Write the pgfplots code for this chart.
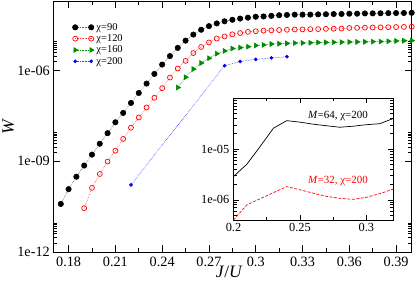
\documentclass[border=0pt]{standalone}
\usepackage{pgfplots}
\pgfplotsset{compat=1.18}
\usepackage{fontspec}
\setmainfont{Liberation Serif}
\definecolor{dgreen}{RGB}{0,140,0}
\definecolor{dotgray}{RGB}{90,90,90}
\begin{document}
\begin{tikzpicture}
\begin{axis}[
 at={(0,0)}, anchor=south west,
 scale only axis, width=358.7bp, height=251bp,
 xmin=0.17, xmax=0.4, ymode=log, ymin=1e-12, ymax=2e-4,
 xtick={0.18,0.21,0.24,0.27,0.3,0.33,0.36,0.39},
 xticklabels={0.18,0.21,0.24,0.27,0.3,0.33,0.36,0.39},
 minor xtick={0.195,0.225,0.255,0.285,0.315,0.345,0.375},
 ytick={1e-12,1e-9,1e-6}, yticklabels={1e-12,1e-09,1e-06},
 minor ytick={2e-12,3e-12,4e-12,5e-12,6e-12,7e-12,8e-12,9e-12,2e-9,3e-9,4e-9,5e-9,6e-9,7e-9,8e-9,9e-9,2e-6,3e-6,4e-6,5e-6,6e-6,7e-6,8e-6,9e-6},
 tick align=inside, major tick length=7bp, minor tick length=4bp,
 axis line style={line width=0.8bp},
 every tick/.style={line width=0.7bp, black},
 /pgf/number format/assume math mode=true,
 ticklabel style={font=\fontsize{14.3}{14.3}\selectfont, inner sep=0pt},
 yticklabel style={xshift=-3bp},
 xticklabel style={yshift=-4.7bp},
 xlabel={\textit{J}/\textit{U}}, ylabel={\textit{W}},
 every axis x label/.style={at={(axis description cs:0.4915,-0.078)}, anchor=center, font=\fontsize{17.5}{17.5}\selectfont, inner sep=0pt},
 every axis y label/.style={at={(axis description cs:-0.1246,0.5)}, anchor=center, rotate=90, font=\fontsize{17.5}{17.5}\selectfont, inner sep=0pt},
 legend image code/.code={\draw[mark repeat=2,mark phase=1] plot coordinates {(0bp,0bp) (8bp,0bp) (16bp,0bp)};},
 legend cell align=left,
 legend style={at={(axis description cs:0.0544,0.912)}, anchor=north west, draw=none, fill=none, inner sep=0pt, outer sep=0pt, row sep=2.9bp, column sep=2.5bp, font=\fontsize{10.5}{12}\selectfont, nodes={inner sep=0pt}},
]
\addplot[dotgray, densely dotted, line width=0.6bp, mark=*, mark size=2.7pt, mark options={solid, black}] coordinates {
(0.175,3.89e-11) (0.18,1.20e-10) (0.185,3.09e-10) (0.19,7.24e-10) (0.195,1.66e-9) (0.2,3.80e-9) (0.205,8.51e-9) (0.21,1.95e-8) (0.215,3.98e-8) (0.22,8.51e-8) (0.225,1.82e-7) (0.23,3.72e-7) (0.235,7.76e-7) (0.24,1.58e-6) (0.245,3.02e-6) (0.25,5.62e-6) (0.255,9.77e-6) (0.26,1.55e-5) (0.265,2.24e-5) (0.27,2.95e-5) (0.275,3.63e-5) (0.28,4.27e-5) (0.285,4.79e-5) (0.29,5.25e-5) (0.295,5.62e-5) (0.3,6.03e-5) (0.305,6.17e-5) (0.31,6.46e-5) (0.315,6.76e-5) (0.32,6.92e-5) (0.325,7.08e-5) (0.33,7.08e-5) (0.335,7.10e-5) (0.34,7.24e-5) (0.345,7.30e-5) (0.35,7.41e-5) (0.355,7.45e-5) (0.36,7.59e-5) (0.365,7.62e-5) (0.37,7.76e-5) (0.375,7.80e-5) (0.38,7.85e-5) (0.385,7.94e-5) (0.39,7.98e-5) (0.395,8.02e-5) (0.4,8.13e-5)};
\addlegendentry{χ=90}
\addplot[red!70, densely dotted, line width=0.6bp, mark=o, mark size=2.5pt, mark options={solid, red, line width=0.7bp}] coordinates {
(0.19,2.82e-11) (0.195,1.32e-10) (0.2,3.80e-10) (0.205,9.77e-10) (0.21,2.24e-9) (0.215,5.50e-9) (0.22,1.29e-8) (0.225,2.82e-8) (0.23,6.03e-8) (0.235,1.26e-7) (0.24,2.63e-7) (0.245,5.89e-7) (0.25,1.17e-6) (0.255,2.09e-6) (0.26,3.80e-6) (0.265,6.03e-6) (0.27,8.51e-6) (0.275,1.15e-5) (0.28,1.35e-5) (0.285,1.58e-5) (0.29,1.74e-5) (0.295,1.91e-5) (0.3,2.00e-5) (0.305,2.09e-5) (0.31,2.14e-5) (0.315,2.19e-5) (0.32,2.24e-5) (0.325,2.29e-5) (0.33,2.30e-5) (0.335,2.34e-5) (0.34,2.35e-5) (0.345,2.40e-5) (0.35,2.42e-5) (0.355,2.45e-5) (0.36,2.57e-5) (0.365,2.60e-5) (0.37,2.63e-5) (0.375,2.65e-5) (0.38,2.69e-5) (0.385,2.72e-5) (0.39,2.75e-5) (0.395,2.78e-5) (0.4,2.82e-5)};
\addlegendentry{χ=120}
\addplot[dgreen, densely dotted, line width=0.6bp, mark=triangle*, mark size=2.8pt, mark options={solid, dgreen, rotate=-90}] coordinates {
(0.25,2.75e-7) (0.255,6.03e-7) (0.26,1.12e-6) (0.265,1.78e-6) (0.27,2.57e-6) (0.275,3.63e-6) (0.28,4.47e-6) (0.285,5.37e-6) (0.29,5.75e-6) (0.295,6.17e-6) (0.3,6.76e-6) (0.305,7.08e-6) (0.31,7.59e-6) (0.315,7.76e-6) (0.32,7.94e-6) (0.325,8.13e-6) (0.33,8.20e-6) (0.335,8.32e-6) (0.34,8.51e-6) (0.345,8.55e-6) (0.35,8.64e-6) (0.355,8.71e-6) (0.36,8.80e-6) (0.365,8.87e-6) (0.37,8.91e-6) (0.375,9.05e-6) (0.38,9.12e-6) (0.385,9.33e-6) (0.39,9.55e-6) (0.395,9.70e-6) (0.4,9.77e-6)};
\addlegendentry{χ=160}
\addplot[blue!80, densely dotted, line width=0.6bp, mark=*, mark size=1.5pt, mark options={solid, blue}] coordinates {
(0.22,1.66e-10) (0.28,1.45e-6) (0.29,2.00e-6) (0.30,2.34e-6) (0.31,2.63e-6) (0.32,2.88e-6)};
\addlegendentry{χ=200}
\end{axis}
\begin{axis}[
 at={(180.5bp,32bp)}, anchor=south west,
 scale only axis, width=159.5bp, height=121.7bp,
 xmin=0.2, xmax=0.32, ymode=log, ymin=4e-7, ymax=1e-4,
 axis background/.style={fill=white},
 xtick={0.2,0.25,0.3}, xticklabels={0.2,0.25,0.3},
 minor xtick={0.225,0.275},
 ytick={1e-6,1e-5}, yticklabels={1e-06,1e-05},
 minor ytick={5e-7,6e-7,7e-7,8e-7,9e-7,2e-6,3e-6,4e-6,5e-6,6e-6,7e-6,8e-6,9e-6,2e-5,3e-5,4e-5,5e-5,6e-5,7e-5,8e-5,9e-5},
 tick align=inside, major tick length=5bp, minor tick length=3bp,
 axis line style={line width=0.7bp},
 every tick/.style={line width=0.6bp, black},
 /pgf/number format/assume math mode=true,
 ticklabel style={font=\fontsize{12.4}{12.4}\selectfont, inner sep=0pt},
 yticklabel style={xshift=-4bp},
 xticklabel style={yshift=-3.3bp},
]
\addplot[black, line width=0.7bp] coordinates {
(0.2,2.88e-6) (0.21,5.01e-6) (0.22,1.12e-5) (0.23,2.57e-5) (0.24,3.63e-5) (0.25,3.39e-5) (0.26,3.09e-5) (0.27,2.88e-5) (0.28,2.69e-5) (0.29,2.82e-5) (0.30,3.02e-5) (0.31,3.16e-5) (0.32,3.98e-5)};
\addplot[red, line width=0.7bp, dash pattern=on 3bp off 1.5bp] coordinates {
(0.2,4.0e-7) (0.21,7.94e-7) (0.22,1.05e-6) (0.23,1.38e-6) (0.24,1.82e-6) (0.25,1.58e-6) (0.26,1.35e-6) (0.27,1.17e-6) (0.28,1.07e-6) (0.29,1.02e-6) (0.30,1.12e-6) (0.31,1.32e-6) (0.32,1.62e-6)};
\node[font=\fontsize{11}{11}\selectfont] at (axis cs:0.2786,4.5e-5) {\textit{M}=64, χ=200};
\node[font=\fontsize{11}{11}\selectfont, red] at (axis cs:0.2786,2.3e-6) {\textit{M}=32, χ=200};
\end{axis}
\pgfresetboundingbox
\path[use as bounding box] (-53bp,-31bp) rectangle (362bp,252bp);
\end{tikzpicture}
\end{document}
